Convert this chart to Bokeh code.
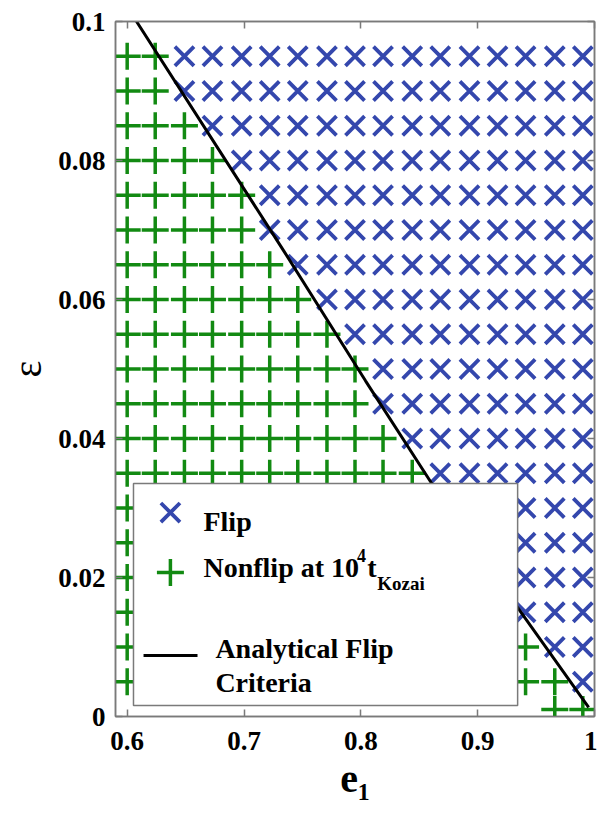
from bokeh.plotting import figure
from bokeh.models import LinearAxis, FixedTicker, CustomJSTickFormatter, Range1d
from bokeh.core.properties import value
from bokeh.embed import file_html
from bokeh.resources import INLINE

# ---- data ----
e1_grid = [0.600, 0.624, 0.649, 0.673, 0.698, 0.722, 0.746, 0.771, 0.795,
           0.819, 0.844, 0.868, 0.893, 0.917, 0.941, 0.966, 0.990]
eps_rows = [0.005, 0.010, 0.015, 0.020, 0.025, 0.030, 0.035, 0.040, 0.045, 0.050,
            0.055, 0.060, 0.065, 0.070, 0.075, 0.080, 0.085, 0.090, 0.095]
# number of non-flipping runs in each row (counted from the left)
nonflip_count = [16, 15, 14, 13, 12, 12, 11, 10, 9, 9, 8, 7, 6, 5, 5, 4, 3, 2, 2]
extra_nonflip_e1 = [0.966, 0.990]
extra_nonflip_eps = [0.001, 0.001]

criterion_e1 = [0.608, 0.734, 0.804, 0.860, 0.935, 0.995]
criterion_eps = [0.100, 0.067, 0.0483, 0.0337, 0.0155, 0.0013]

x_ticks = [0.6, 0.7, 0.8, 0.9, 1.0]
y_ticks = [0.0, 0.02, 0.04, 0.06, 0.08, 0.1]

flip_x, flip_y, non_x, non_y = [], [], [], []
for eps, n in zip(eps_rows, nonflip_count):
    for i, e in enumerate(e1_grid):
        if i < n:
            non_x.append(e); non_y.append(eps)
        else:
            flip_x.append(e); flip_y.append(eps)
non_x += extra_nonflip_e1
non_y += extra_nonflip_eps

BLUE = "#3447ad"
GREEN = "#128a12"
GREY = "#7a7a7a"
FONT = value("Liberation Serif")

p = figure(frame_width=479, frame_height=695, output_backend="svg", toolbar_location=None,
           x_range=Range1d(0.59, 1.0), y_range=Range1d(0.0, 0.1),
           min_border_left=115, min_border_top=21, min_border_right=3, min_border_bottom=99)
p.grid.visible = False
p.outline_line_color = GREY
p.outline_line_width = 1.5
p.background_fill_color = "white"
p.border_fill_color = "white"

fmt = CustomJSTickFormatter(code="return String(tick);")
blank = CustomJSTickFormatter(code="return '';")

p.xaxis.ticker = FixedTicker(ticks=x_ticks)
p.yaxis.ticker = FixedTicker(ticks=y_ticks)
for ax in (p.xaxis[0], p.yaxis[0]):
    ax.formatter = fmt
    ax.axis_line_color = GREY
    ax.axis_line_width = 1.5
    ax.major_tick_line_color = GREY
    ax.major_tick_line_width = 1.5
    ax.major_tick_in = 7
    ax.major_tick_out = 0
    ax.minor_tick_line_color = None
    ax.major_label_text_font = "Liberation Serif"
    ax.major_label_text_font_style = "bold"
    ax.major_label_text_font_size = "27px"
    ax.major_label_text_color = "black"
    ax.axis_label_text_font = "Liberation Serif"
    ax.axis_label_text_color = "black"

p.xaxis.major_label_standoff = 15
p.yaxis.major_label_standoff = 10
p.xaxis.axis_label = "e\u2081"
p.xaxis.axis_label_text_font_size = "40px"
p.xaxis.axis_label_text_font_style = "bold"
p.xaxis.axis_label_standoff = 3
p.yaxis.axis_label = "\u03b5"
p.yaxis.axis_label_text_font_size = "40px"
p.yaxis.axis_label_text_font_style = "normal"
p.yaxis.axis_label_standoff = 5

for ticks, side in ((x_ticks, "above"), (y_ticks, "right")):
    ax = LinearAxis(ticker=FixedTicker(ticks=ticks), formatter=blank)
    ax.axis_line_color = GREY
    ax.axis_line_width = 1.5
    ax.major_tick_line_color = GREY
    ax.major_tick_line_width = 1.5
    ax.major_tick_in = 7
    ax.major_tick_out = 0
    ax.minor_tick_line_color = None
    ax.major_label_standoff = 0
    p.add_layout(ax, side)

# data marks
p.scatter(non_x, non_y, marker="cross", size=27, line_width=3.5, line_color=GREEN)
p.scatter(flip_x, flip_y, marker="x", size=27, line_width=3.8, line_color=BLUE)
p.line(criterion_e1, criterion_eps, line_color="black", line_width=3)

# legend box (drawn by hand to allow super/subscripts)
p.quad(left=[0.6054], right=[0.9342], bottom=[0.00158], top=[0.03353],
       fill_color="white", line_color=GREY, line_width=1.5)
p.scatter([0.637], [0.02935], marker="x", size=27, line_width=3.8, line_color=BLUE)
p.scatter([0.637], [0.02072], marker="cross", size=27, line_width=3.5, line_color=GREEN)
p.line([0.6140, 0.6602], [0.00878, 0.00878], line_color="black", line_width=3)

def txt(x, y, s, size):
    p.text([x], [y], text=[s], text_font=FONT, text_font_style="bold",
           text_font_size=size, text_color="black",
           text_align="left", text_baseline="alphabetic")

txt(0.6653, 0.02806, "Flip", "28px")
txt(0.6653, 0.02149, "Nonflip at 10", "28px")
txt(0.7968, 0.02317, "4", "18px")
txt(0.8054, 0.02149, "t", "28px")
txt(0.8140, 0.01920, "Kozai", "19px")
txt(0.6755, 0.00978, "Analytical Flip", "28px")
txt(0.6755, 0.00489, "Criteria", "28px")

open("out.html", "w").write(file_html(p, INLINE))
